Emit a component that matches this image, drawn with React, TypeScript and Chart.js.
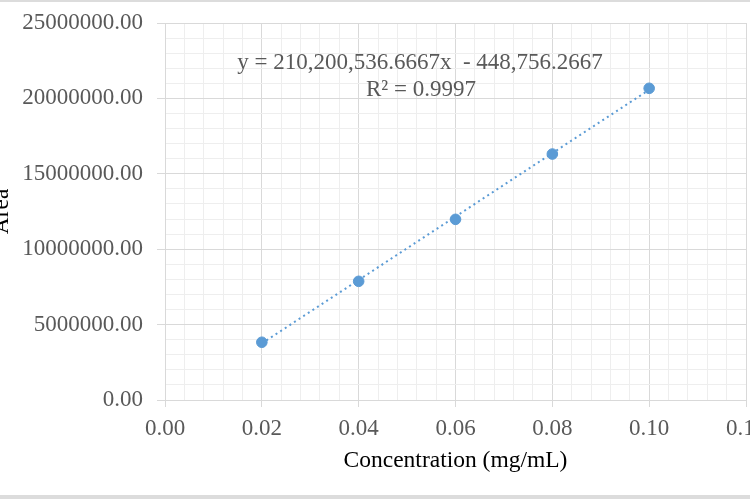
import React, { useEffect, useRef } from "react";
import { Chart, registerables } from "chart.js";

Chart.register(...registerables);

// Data
const concentrations = [0.02, 0.04, 0.06, 0.08, 0.1];
const areas = [3830000, 7870000, 11980000, 16310000, 20670000];

// Linear trendline end points (from y = 210,200,536.6667x - 448,756.2667)
const trendX = [0.02, 0.1];
const trendY = [3755254.5, 20571297.4];

const equationLines = ["y = 210,200,536.6667x  - 448,756.2667", "R\u00B2 = 0.9997"];

const xAxisTitle = "Concentration (mg/mL)";
const yAxisTitle = "Area";

const xMin = 0;
const xMax = 0.12;
const xMinorStep = 0.004;
const yMin = 0;
const yMax = 25000000;
const yMinorStep = 1000000;
const minorPerMajor = 5;

const FONT = "'Liberation Serif', 'Times New Roman', serif";
const MAJOR = "#d9d9d9";
const MINOR = "#eeeeee";
const BLUE = "#5b9bd5";

const decorPlugin = {
  id: "decor",
  beforeDraw(chart: any) {
    const ctx = chart.ctx;
    ctx.save();
    ctx.fillStyle = "#ffffff";
    ctx.fillRect(0, 0, chart.width, chart.height);
    ctx.fillStyle = "#dcdcdc";
    ctx.fillRect(0, 0, chart.width, 2);
    ctx.fillRect(0, 495, chart.width, 4);
    ctx.restore();
  },
  afterDraw(chart: any) {
    const ctx = chart.ctx;
    ctx.save();
    ctx.fillStyle = "#595959";
    ctx.font = `23px ${FONT}`;
    ctx.textAlign = "center";
    ctx.textBaseline = "alphabetic";
    ctx.fillText(equationLines[0], 420, 69);
    ctx.fillText(equationLines[1], 421, 96);
    ctx.restore();
  },
};

export default function App() {
  const canvasRef = useRef<HTMLCanvasElement | null>(null);

  useEffect(() => {
    const canvas = canvasRef.current;
    if (!canvas) return;
    const chart = new Chart(canvas, {
      type: "scatter",
      data: {
        datasets: [
          {
            label: "Area",
            data: concentrations.map((x, i) => ({ x, y: areas[i] })),
            backgroundColor: BLUE,
            borderColor: BLUE,
            borderWidth: 1,
            pointRadius: 5.3,
            showLine: false,
          },
          {
            label: "Trend",
            data: trendX.map((x, i) => ({ x, y: trendY[i] })),
            showLine: true,
            borderColor: BLUE,
            borderWidth: 2,
            borderDash: [2, 3.5],
            pointRadius: 0,
            fill: false,
          },
        ],
      },
      plugins: [decorPlugin],
      options: {
        responsive: false,
        animation: false,
        devicePixelRatio: 1,
        layout: { padding: { left: 0, right: 54, top: 23, bottom: 0 } },
        plugins: {
          legend: { display: false },
          tooltip: { enabled: false },
        },
        scales: {
          x: {
            type: "linear",
            min: xMin,
            max: xMax,
            afterFit: (scale: any) => {
              scale.height = 99;
            },
            border: { display: true, color: MAJOR, width: 1 },
            grid: {
              color: (c: any) => (c.index % minorPerMajor === 0 ? MAJOR : MINOR),
              tickColor: (c: any) => (c.index % minorPerMajor === 0 ? MAJOR : "rgba(0,0,0,0)"),
              tickLength: 7,
              lineWidth: 1,
            },
            ticks: {
              stepSize: xMinorStep,
              autoSkip: false,
              maxRotation: 0,
              padding: 8.4,
              color: "#595959",
              font: { family: FONT, size: 23 },
              callback: (v: any, i: number) => (i % minorPerMajor === 0 ? Number(v).toFixed(2) : ""),
            },
            title: {
              display: true,
              text: xAxisTitle,
              color: "#000000",
              font: { family: FONT, size: 23.5 },
              padding: { top: 0, bottom: 24 },
            },
          },
          y: {
            type: "linear",
            min: yMin,
            max: yMax,
            afterFit: (scale: any) => {
              scale.width = 165;
            },
            border: { display: true, color: MAJOR, width: 1 },
            grid: {
              color: (c: any) => (c.index % minorPerMajor === 0 ? MAJOR : MINOR),
              tickColor: (c: any) => (c.index % minorPerMajor === 0 ? MAJOR : "rgba(0,0,0,0)"),
              tickLength: 8,
              lineWidth: 1,
            },
            ticks: {
              stepSize: yMinorStep,
              autoSkip: false,
              padding: 14,
              color: "#595959",
              font: { family: FONT, size: 23, lineHeight: 0.75 },
              callback: (v: any, i: number) => (i % minorPerMajor === 0 ? Number(v).toFixed(2) : ""),
            },
            title: {
              display: true,
              text: yAxisTitle,
              color: "#000000",
              font: { family: FONT, size: 23.5 },
              padding: { top: -12, bottom: 0 },
            },
          },
        },
      },
    });
    return () => chart.destroy();
  }, []);

  return (
    <div
      style={{
        position: "absolute",
        left: 0,
        top: 0,
        width: 750,
        height: 499,
        overflow: "hidden",
        background: "#ffffff",
      }}
    >
      <canvas
        ref={canvasRef}
        width={800}
        height={499}
        style={{ width: "800px", height: "499px", display: "block" }}
      />
    </div>
  );
}
